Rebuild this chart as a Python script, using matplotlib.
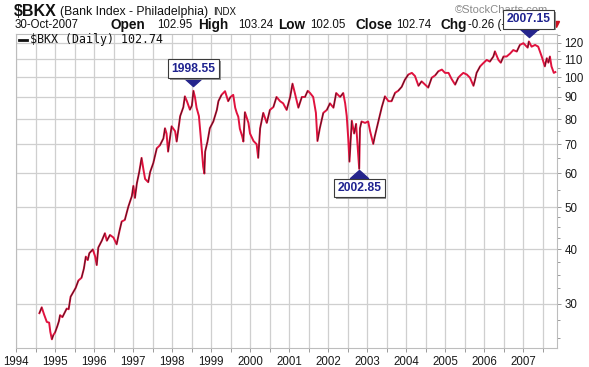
import numpy as np
import matplotlib.pyplot as plt
import matplotlib.transforms as mtransforms
import matplotlib.patheffects as pe
from matplotlib.collections import LineCollection
from matplotlib.path import Path
from matplotlib.ticker import FixedLocator, FixedFormatter, NullFormatter

# daily close of $BKX (decimal years)
dates = [1994.60, 1994.66, 1994.72, 1994.79, 1994.85, 1994.88, 1994.92, 1994.96, 1995.00, 1995.06,
         1995.10, 1995.13, 1995.19, 1995.25, 1995.30, 1995.35, 1995.40, 1995.47, 1995.53, 1995.60,
         1995.68, 1995.74, 1995.79, 1995.84, 1995.88, 1995.97, 1996.03, 1996.07, 1996.11, 1996.20,
         1996.28, 1996.33, 1996.41, 1996.50, 1996.58, 1996.65, 1996.71, 1996.79, 1996.88, 1996.97,
         1997.01, 1997.05, 1997.10, 1997.16, 1997.22, 1997.27, 1997.31, 1997.39, 1997.44, 1997.52,
         1997.61, 1997.69, 1997.78, 1997.82, 1997.86, 1997.90, 1997.99, 1998.08, 1998.12, 1998.21,
         1998.29, 1998.33, 1998.38, 1998.46, 1998.51, 1998.55, 1998.59, 1998.63, 1998.69, 1998.74,
         1998.80, 1998.83, 1998.85, 1998.91, 1998.97, 1999.06, 1999.15, 1999.19, 1999.27, 1999.36,
         1999.44, 1999.50, 1999.57, 1999.62, 1999.66, 1999.70, 1999.74, 1999.80, 1999.83, 1999.87,
         1999.96, 2000.00, 2000.09, 2000.17, 2000.21, 2000.26, 2000.34, 2000.43, 2000.51, 2000.60,
         2000.68, 2000.77, 2000.85, 2000.94, 2001.03, 2001.09, 2001.15, 2001.24, 2001.33, 2001.41,
         2001.48, 2001.54, 2001.62, 2001.69, 2001.73, 2001.79, 2001.88, 2001.97, 2002.05, 2002.14,
         2002.21, 2002.31, 2002.39, 2002.44, 2002.48, 2002.52, 2002.55, 2002.61, 2002.67, 2002.72,
         2002.80, 2002.82, 2002.86, 2002.95, 2003.03, 2003.08, 2003.16, 2003.20, 2003.29, 2003.38,
         2003.46, 2003.55, 2003.63, 2003.72, 2003.80, 2003.89, 2003.97, 2004.06, 2004.15, 2004.23,
         2004.32, 2004.40, 2004.49, 2004.57, 2004.66, 2004.75, 2004.83, 2004.92, 2005.00, 2005.09,
         2005.17, 2005.26, 2005.34, 2005.40, 2005.47, 2005.56, 2005.64, 2005.73, 2005.77, 2005.81,
         2005.90, 2005.98, 2006.07, 2006.15, 2006.24, 2006.28, 2006.37, 2006.43, 2006.50, 2006.58,
         2006.67, 2006.75, 2006.84, 2006.92, 2007.01, 2007.12, 2007.15, 2007.22, 2007.31, 2007.39,
         2007.48, 2007.56, 2007.61, 2007.65, 2007.69, 2007.73, 2007.79, 2007.83]
closes = [28.5, 29.4, 28.3, 27.2, 27.1, 25.8, 24.8, 25.4, 25.7, 26.6,
          27.3, 28.2, 27.9, 28.6, 29.2, 29.1, 31.1, 31.9, 32.6, 33.9,
          34.4, 36.1, 38.5, 37.8, 39.2, 40.0, 38.5, 36.8, 40.4, 41.9,
          43.6, 41.9, 43.2, 42.6, 41.1, 44.0, 46.4, 46.8, 50.2, 53.1,
          56.1, 52.6, 56.9, 60.4, 65.1, 61.0, 58.2, 57.2, 60.4, 63.3,
          68.5, 69.6, 72.2, 76.2, 74.1, 67.3, 77.0, 75.0, 71.0, 81.3,
          85.2, 90.3, 88.1, 84.1, 86.0, 93.0, 89.8, 85.0, 81.3, 72.2,
          62.1, 59.9, 67.3, 71.0, 76.2, 79.0, 84.0, 88.0, 91.0, 92.8,
          88.0, 90.0, 91.0, 85.0, 82.7, 81.0, 76.0, 73.0, 71.0, 83.0,
          78.4, 74.1, 71.2, 70.0, 65.1, 76.2, 82.7, 78.4, 84.0, 85.3,
          90.0, 88.0, 87.0, 84.0, 90.0, 96.6, 91.9, 85.0, 90.0, 90.0,
          93.0, 91.9, 90.0, 82.7, 71.2, 76.2, 82.7, 84.0, 87.0, 85.0,
          91.9, 90.0, 91.9, 87.0, 81.3, 72.0, 63.8, 79.3, 74.1, 78.0,
          61.4, 76.2, 79.0, 78.4, 79.0, 75.0, 70.1, 73.0, 79.0, 85.3,
          90.3, 88.0, 88.0, 92.0, 93.0, 95.0, 98.6, 101.4, 102.3, 100.6,
          95.5, 97.8, 96.1, 94.6, 99.7, 101.0, 103.2, 104.1, 102.3, 102.3,
          99.0, 96.1, 99.7, 101.0, 102.3, 101.4, 99.7, 95.5, 98.6, 102.3,
          105.9, 107.7, 109.6, 108.6, 111.6, 114.7, 109.6, 108.0, 111.6, 111.6,
          113.4, 115.5, 114.6, 118.7, 119.8, 117.0, 120.9, 117.6, 118.7, 117.6,
          111.6, 105.9, 110.6, 108.0, 111.6, 105.9, 102.3, 102.74]

year_ticks = list(range(1994, 2008))
price_ticks = [30, 40, 50, 60, 70, 80, 90, 100, 110, 120]
price_minor = [25, 27.5, 32.5, 35, 37.5, 42.5, 45, 47.5, 55, 65, 75, 85, 95, 105, 115, 125]
marker_labels = ['1998.55', '2002.85', '2007.15']
marker_kind = ['high', 'low', 'high']

W, H = 589, 367
fig = plt.figure(figsize=(W / 100, H / 100), dpi=100)
ax = fig.add_axes([16 / W, 1 - 348 / H, (557 - 16) / W, (348 - 34) / H])

def fx(px):
    return px / W

def fy(py):
    return 1 - py / H

x = np.array(dates)
y = np.array(closes)

# red price line, thin black flecks on the bigger up moves
ax.plot(x, y, color='#e0123e', lw=1.4, zorder=3, solid_joinstyle='round')
pts = np.column_stack([x, y]).reshape(-1, 1, 2)
segs = np.concatenate([pts[:-1], pts[1:]], axis=1)
up = y[1:] > y[:-1] * 1.02
lc = LineCollection(segs[up], colors='#1a1a1a', linewidths=0.55, alpha=0.85, zorder=4)
ax.add_collection(lc)

ax.set_yscale('log')
ax.set_xlim(1994.0, 1994 + 541 / 39)
ax.set_ylim(23.68, 125.8)

ax.yaxis.tick_right()
ax.yaxis.set_major_locator(FixedLocator(price_ticks))
ax.yaxis.set_major_formatter(FixedFormatter([str(p) for p in price_ticks]))
ax.yaxis.set_minor_locator(FixedLocator(price_minor))
ax.yaxis.set_minor_formatter(NullFormatter())
ax.set_xticks(year_ticks)
ax.set_xticklabels([str(t) for t in year_ticks])
ax.set_xticks([t + 0.5 for t in year_ticks], minor=True)

ax.grid(True, which='major', color='#cfcfcf', lw=0.9)
ax.grid(True, which='minor', axis='x', color='#cfcfcf', lw=0.9)
ax.set_axisbelow(True)
ax.tick_params(axis='both', which='both', colors='#9a9a9a', labelcolor='#1a1a1a',
               labelsize=8.3, length=3, width=0.7)
ax.tick_params(axis='y', which='minor', length=2)
ax.tick_params(axis='y', pad=2.5)
ax.tick_params(axis='x', pad=3)
for lbl in ax.get_xticklabels() + ax.get_yticklabels():
    lbl.set_family('Liberation Sans')
for s in ax.spines.values():
    s.set_color('#bdbdbd')
    s.set_linewidth(0.8)

# header
hdr = dict(transform=fig.transFigure, va='center', clip_on=False, zorder=2,
           family='Liberation Sans', color='#111111')
ax.text(fx(14), fy(11), '$BKX', fontsize=11.5, fontweight='bold', **hdr)
ax.text(fx(60), fy(12), '(Bank Index - Philadelphia)', fontsize=8.8, **hdr)
ax.text(fx(213), fy(12), 'INDX', fontsize=7, **hdr)
ax.text(fx(15), fy(25), '30-Oct-2007', fontsize=8.3, **hdr)
row = [(110, 'Open', True), (157, '102.95', False), (198, 'High', True), (238, '103.24', False),
       (278, 'Low', True), (310, '102.05', False), (355, 'Close', True), (396, '102.74', False),
       (440, 'Chg', True), (468, '-0.26 (-0.25%)', False)]
for px, s, bold in row:
    ax.text(fx(px), fy(25), s, fontsize=9.8 if bold else 8.3,
            fontweight='bold' if bold else 'normal', **hdr)
ax.plot([fx(556)], [fy(24)], transform=fig.transFigure, marker='v', ms=5,
        color='#cc1020', clip_on=False, zorder=2)
ax.text(fx(455), fy(10), '\u00a9StockCharts.com', fontsize=8, transform=fig.transFigure,
        va='center', color='#8a8a8a', clip_on=False, zorder=2, family='Liberation Sans')

# legend
ax.plot([fx(19), fx(27)], [fy(40), fy(40)], transform=fig.transFigure, color='#111111',
        lw=2, clip_on=False, zorder=4)
ax.text(fx(30), fy(40), '$BKX (Daily) 102.74', fontsize=8.4, family='DejaVu Sans Mono',
        transform=fig.transFigure, va='center', color='#111111', zorder=4)

# high / low markers
tri_down = Path([(-1, 0.45), (1, 0.45), (0, -0.45), (-1, 0.45)],
                [Path.MOVETO, Path.LINETO, Path.LINETO, Path.CLOSEPOLY])
tri_up = Path([(-1, -0.45), (1, -0.45), (0, 0.45), (-1, -0.45)],
              [Path.MOVETO, Path.LINETO, Path.LINETO, Path.CLOSEPOLY])
for lab, kind in zip(marker_labels, marker_kind):
    d = float(lab)
    win = np.abs(x - d) < 0.12
    i = np.where(win)[0][np.argmax(y[win]) if kind == 'high' else np.argmin(y[win])]
    px_, py_ = x[i], y[i]
    if kind == 'high':
        box_dy, tri_dy, tri = 16.0, 6.3, tri_down
    else:
        box_dy, tri_dy, tri = -13.8, -3.6, tri_up
    tr = mtransforms.offset_copy(ax.transData, fig=fig, x=0, y=tri_dy, units='points')
    ax.plot([px_], [py_], marker=tri, ms=13, color='#24248c', transform=tr,
            clip_on=False, zorder=11)
    ann = ax.annotate(lab, xy=(px_, py_), xytext=(0, box_dy), textcoords='offset points',
                      ha='center', va='center', fontsize=8.7, fontweight='bold', color='#1f2390',
                      family='Liberation Sans', annotation_clip=False, zorder=12,
                      bbox=dict(boxstyle='square,pad=0.28', fc='white', ec='#3a3a3a', lw=0.8))
    ann.get_bbox_patch().set_path_effects(
        [pe.SimplePatchShadow(offset=(1.3, -1.3), shadow_rgbFace='#8a8a8a', alpha=0.9), pe.Normal()])

fig.savefig('out.png', dpi=100)
